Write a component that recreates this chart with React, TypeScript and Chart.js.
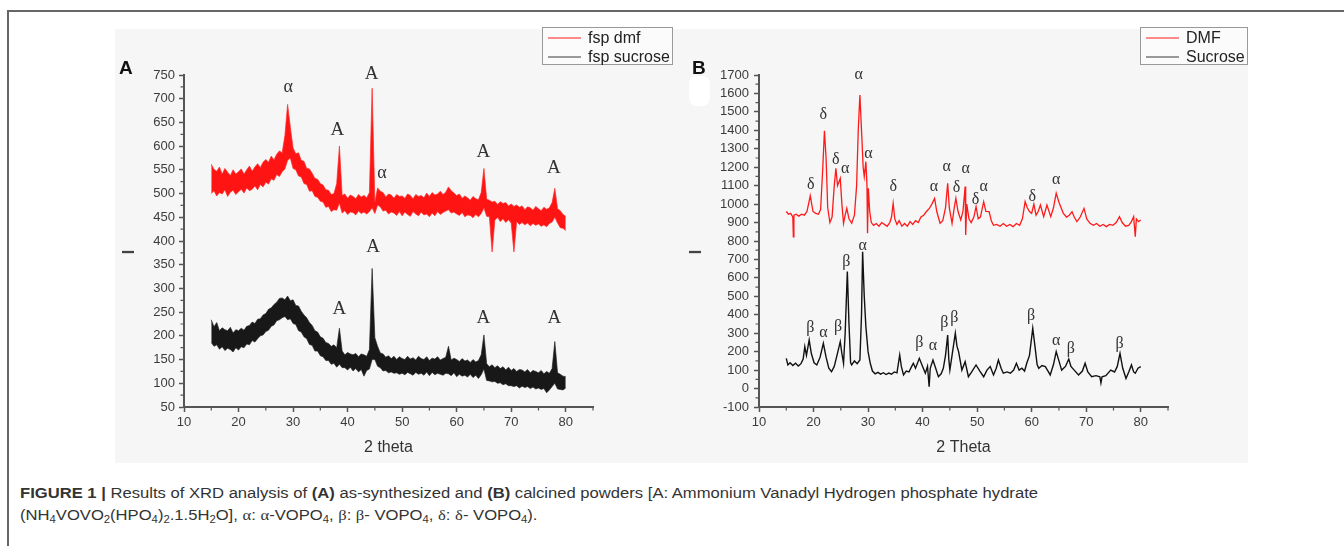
import React, { useEffect, useRef } from "react";
import { Chart, registerables } from "chart.js";

Chart.register(...registerables);

const SANS = "'Liberation Sans', Arial, Helvetica, sans-serif";
const SERIF = "'Liberation Serif', 'Times New Roman', Times, serif";

// ---------------- Panel A (as-synthesized) ----------------
// sampled 2-theta grid: 15 .. 80, step 0.5 ; upper / lower edge of the noisy trace
const A_START = 15;
const A_STEP = 0.5;
const A_DMF_HIGH = [
  562, 551, 547, 556, 541, 553, 545, 538, 550, 541,
  546, 552, 541, 550, 558, 547, 556, 563, 555, 566,
  572, 566, 579, 571, 583, 590, 586, 622, 688, 640,
  596, 584, 586, 570, 568, 553, 552, 543, 532, 530,
  521, 518, 508, 507, 498, 500, 521, 600, 496, 499,
  490, 497, 494, 489, 498, 493, 496, 491, 502, 722,
  482, 512, 505, 502, 493, 499, 497, 490, 498, 494,
  495, 490, 499, 496, 489, 498, 494, 496, 491, 501,
  494, 502, 497, 499, 505, 498, 503, 514, 506, 501,
  496, 499, 490, 495, 491, 486, 494, 489, 487, 502,
  553, 488, 486, 482, 484, 477, 483, 479, 481, 474,
  478, 473, 476, 471, 474, 466, 472, 470, 465, 473,
  468, 464, 471, 467, 470, 481, 511, 468, 464, 456,
  452,
];
const A_DMF_LOW = [
  500, 506, 495, 502, 499, 508, 494, 503, 507, 498,
  504, 509, 501, 512, 506, 509, 516, 508, 519, 514,
  524, 520, 531, 528, 540, 536, 546, 552, 570, 575,
  553, 550, 537, 535, 521, 519, 505, 506, 494, 492,
  484, 482, 471, 473, 462, 466, 465, 480, 459, 464,
  456, 461, 460, 455, 463, 458, 461, 457, 462, 470,
  458, 476, 472, 463, 465, 457, 461, 459, 454, 462,
  453, 461, 456, 452, 462, 457, 453, 461, 455, 457,
  451, 459, 453, 462, 456, 460, 463, 466, 459, 461,
  457, 454, 460, 451, 455, 454, 449, 456, 451, 458,
  470, 452, 451, 377, 444, 450, 441, 447, 439, 445,
  438, 377, 441, 435, 439, 434, 438, 432, 437, 433,
  436, 431, 434, 430, 437, 440, 450, 438, 428, 427,
  422,
];
const A_SUC_HIGH = [
  234, 219, 228, 211, 217, 213, 211, 218, 206, 213,
  211, 216, 212, 220, 222, 229, 226, 235, 236, 244,
  247, 256, 259, 266, 271, 279, 280, 276, 284, 274,
  276, 264, 263, 252, 244, 238, 228, 222, 211, 208,
  198, 195, 186, 184, 178, 181, 175, 216, 168, 160,
  165, 162, 160, 163, 156, 162, 160, 157, 171, 342,
  196, 178, 164, 162, 155, 158, 152, 157, 150, 156,
  152, 150, 157, 151, 154, 149, 157, 152, 150, 156,
  148, 153, 151, 156, 149, 152, 155, 178, 149, 153,
  150, 146, 152, 147, 149, 144, 150, 145, 148, 160,
  202, 141, 135, 139, 133, 137, 131, 135, 128, 134,
  127, 131, 125, 129, 128, 124, 129, 122, 127, 125,
  122, 127, 120, 125, 121, 131, 188, 122, 119, 115,
  114,
];
const A_SUC_LOW = [
  186, 178, 181, 172, 177, 169, 174, 171, 166, 175,
  170, 177, 175, 183, 181, 190, 187, 194, 200, 202,
  209, 212, 220, 223, 232, 234, 238, 241, 234, 236,
  226, 224, 211, 208, 198, 194, 182, 180, 168, 168,
  158, 156, 148, 148, 140, 142, 134, 140, 133, 133,
  128, 134, 126, 131, 124, 129, 115, 127, 130, 150,
  150, 136, 133, 126, 127, 122, 124, 121, 122, 119,
  121, 118, 123, 120, 117, 123, 119, 121, 117, 124,
  116, 123, 118, 121, 119, 117, 121, 120, 116, 122,
  114, 119, 115, 117, 113, 119, 112, 117, 110, 118,
  130, 106, 105, 103, 104, 100, 101, 97, 99, 95,
  95, 93, 95, 90, 94, 91, 93, 89, 92, 88,
  90, 87, 89, 80, 86, 93, 100, 88, 87, 86,
  90,
];
const A_Y_TICKS = [50, 100, 150, 200, 250, 300, 350, 400, 450, 500, 550, 600, 650, 700, 750];
const A_Y_MINOR = [75, 125, 175, 225, 275, 325, 375, 425, 475, 525, 575, 625, 675, 725];
const A_LABELS: [number, number, string][] = [
  [29.1, 724, "α"], [38.1, 634, "A"], [44.4, 753, "A"], [46.3, 543, "α"],
  [64.9, 588, "A"], [77.8, 553, "A"],
  [38.5, 256, "A"], [44.7, 388, "A"], [64.9, 237, "A"], [77.9, 237, "A"],
];

// ---------------- Panel B (calcined) ----------------
const B_DMF: [number, number][] = [
  [15.0, 960], [15.4, 945], [15.8, 950], [16.2, 930], [16.3, 823], [16.4, 940], [16.8, 945],
  [17.3, 935], [17.8, 945], [18.3, 940], [18.8, 960], [19.4, 1045], [19.9, 960], [20.4, 950],
  [20.9, 945], [21.3, 970], [21.7, 1200], [22.0, 1398], [22.3, 1250], [22.6, 980], [23.0, 900],
  [23.4, 930], [23.8, 1100], [24.1, 1194], [24.4, 1100], [24.9, 1140], [25.2, 1000], [25.5, 896],
  [25.8, 940], [26.1, 977], [26.5, 920], [27.0, 896], [27.5, 940], [27.9, 1100], [28.2, 1400],
  [28.5, 1592], [28.8, 1400], [29.1, 1200], [29.3, 1150], [29.6, 1230], [29.8, 1100], [29.9, 842],
  [30.05, 1086], [30.3, 960], [30.6, 900], [31.0, 885], [31.5, 895], [32.0, 880], [32.5, 900],
  [33.0, 890], [33.5, 880], [34.0, 900], [34.3, 930], [34.6, 1004], [34.9, 920], [35.3, 890],
  [35.7, 910], [36.2, 880], [36.7, 895], [37.2, 880], [37.7, 905], [38.2, 890], [38.7, 910],
  [39.2, 900], [39.7, 930], [40.2, 940], [40.7, 960], [41.2, 975], [41.7, 1000], [42.2, 1031],
  [42.6, 960], [43.2, 896], [43.7, 910], [44.2, 980], [44.6, 1113], [44.9, 980], [45.4, 896],
  [45.8, 980], [46.1, 1031], [46.5, 960], [47.0, 914], [47.4, 960], [47.8, 1095], [47.9, 833],
  [48.1, 1000], [48.5, 920], [48.9, 900], [49.4, 930], [49.8, 986], [50.2, 920], [50.6, 930],
  [51.2, 1013], [51.6, 960], [52.2, 959], [52.6, 910], [53.0, 885], [53.6, 890], [54.2, 880],
  [54.8, 895], [55.4, 880], [56.0, 890], [56.6, 878], [57.2, 895], [57.8, 885], [58.3, 920],
  [58.8, 1013], [59.2, 980], [59.6, 960], [60.0, 950], [60.4, 1000], [60.8, 940], [61.2, 960],
  [61.6, 995], [62.2, 932], [62.8, 995], [63.5, 932], [64.0, 980], [64.5, 1059], [65.0, 1010],
  [65.4, 980], [65.8, 950], [66.4, 930], [66.9, 940], [67.4, 959], [67.8, 930], [68.3, 905],
  [68.9, 930], [69.6, 977], [70.1, 920], [70.7, 896], [71.3, 885], [71.9, 895], [72.5, 880],
  [73.1, 890], [73.7, 878], [74.3, 890], [74.9, 885], [75.5, 900], [76.1, 932], [76.6, 900],
  [77.2, 880], [77.8, 885], [78.3, 905], [78.7, 932], [79.0, 823], [79.2, 920], [79.6, 905],
  [80.0, 914],
];
const B_SUC: [number, number][] = [
  [15.0, 164], [15.3, 128], [15.7, 140], [16.2, 125], [16.7, 138], [17.2, 122], [17.7, 135],
  [18.1, 160], [18.4, 227], [18.7, 180], [19.2, 263], [19.6, 190], [20.1, 140], [20.6, 128],
  [21.2, 170], [21.8, 245], [22.3, 170], [22.8, 110], [23.3, 91], [23.8, 120], [24.3, 180],
  [24.9, 254], [25.2, 190], [25.5, 137], [25.8, 300], [26.2, 634], [26.5, 350], [26.8, 140],
  [27.0, 128], [27.5, 150], [28.0, 135], [28.5, 155], [28.8, 400], [29.0, 742], [29.3, 500],
  [29.6, 335], [30.0, 200], [30.4, 137], [30.8, 95], [31.3, 80], [31.8, 88], [32.3, 78],
  [32.8, 86], [33.3, 76], [33.8, 84], [34.3, 78], [34.8, 90], [35.3, 85], [35.8, 182],
  [36.1, 120], [36.5, 74], [37.0, 95], [37.5, 90], [38.0, 120], [38.3, 137], [38.7, 110],
  [39.4, 164], [40.0, 120], [40.5, 83], [40.9, 120], [41.2, 10], [41.4, 110], [41.9, 155],
  [42.4, 110], [42.9, 64], [43.4, 80], [43.8, 110], [44.2, 180], [44.6, 290], [44.8, 160],
  [45.0, 100], [45.4, 180], [46.0, 300], [46.3, 230], [46.6, 200], [46.9, 150], [47.2, 100],
  [47.8, 146], [48.4, 64], [49.0, 90], [49.8, 128], [50.5, 95], [51.2, 64], [51.8, 100],
  [52.4, 119], [53.0, 74], [53.5, 110], [53.9, 155], [54.4, 110], [54.8, 83], [55.5, 90],
  [56.1, 83], [56.7, 100], [57.2, 137], [57.7, 100], [58.2, 110], [58.7, 95], [59.1, 137],
  [59.6, 180], [60.2, 327], [60.6, 230], [61.0, 130], [61.3, 110], [61.9, 125], [62.5, 119],
  [63.0, 95], [63.4, 74], [64.0, 130], [64.5, 200], [65.0, 150], [65.5, 100], [66.2, 120],
  [66.8, 160], [67.2, 120], [67.8, 100], [68.6, 74], [69.3, 95], [69.8, 137], [70.3, 90],
  [71.0, 64], [71.8, 70], [72.5, 64], [72.7, 30], [72.9, 64], [73.6, 70], [74.5, 100],
  [75.2, 90], [75.7, 120], [76.2, 191], [76.7, 110], [77.3, 55], [77.8, 90], [78.3, 128],
  [78.7, 90], [79.0, 83], [79.5, 110], [80.0, 119],
];
const B_Y_TICKS = [-100, 0, 100, 200, 300, 400, 500, 600, 700, 800, 900, 1000, 1100, 1200, 1300, 1400, 1500, 1600, 1700];
const B_Y_MINOR = [-50, 50, 150, 250, 350, 450, 550, 650, 750, 850, 950, 1050, 1150, 1250, 1350, 1450, 1550, 1650];
const B_LABELS: [number, number, string][] = [
  [19.5, 1104, "δ"], [21.8, 1483, "δ"], [24.1, 1239, "δ"], [25.8, 1194, "α"], [28.3, 1700, "α"],
  [30.05, 1275, "α"], [34.6, 1094, "δ"], [42.1, 1094, "α"], [44.4, 1200, "α"], [46.2, 1091, "δ"],
  [47.9, 1189, "α"], [49.7, 1022, "δ"], [51.2, 1094, "α"], [60.1, 1040, "δ"], [64.5, 1131, "α"],
  [19.4, 332, "β"], [21.8, 300, "α"], [24.5, 335, "β"], [26.0, 688, "β"], [29.0, 773, "α"],
  [39.4, 249, "β"], [41.9, 232, "α"], [44.0, 354, "β"], [45.8, 381, "β"], [59.9, 393, "β"],
  [64.5, 259, "α"], [67.2, 218, "β"], [76.1, 245, "β"],
];

// ---------------- shared axis ----------------
const X_TICKS = [10, 20, 30, 40, 50, 60, 70, 80];
const X_MINOR = [15, 25, 35, 45, 55, 65, 75, 85];

const gridOpts = { drawOnChartArea: false, drawTicks: true, tickLength: 5, tickColor: "#555", tickWidth: 1.5 };
const borderOpts = { display: true, color: "#555", width: 2 };
const tickFont = { family: SANS, size: 13 };

function xAxis(title: string) {
  return {
    type: "linear",
    min: 10,
    max: 85,
    afterBuildTicks: (s: any) => { s.ticks = X_TICKS.map((v) => ({ value: v })); },
    afterFit: (s: any) => { s.height = 56; },
    ticks: { color: "#3c3c3c", font: tickFont, padding: 3, maxRotation: 0, autoSkip: false, callback: (v: any) => String(v) },
    grid: gridOpts,
    border: borderOpts,
    title: { display: true, text: title, color: "#333", font: { family: SANS, size: 16 }, padding: { top: 0, bottom: 6 } },
  };
}
function yAxis(min: number, max: number, ticks: number[], width: number, pad: number) {
  return {
    type: "linear",
    min,
    max,
    afterBuildTicks: (s: any) => { s.ticks = ticks.map((v) => ({ value: v })); },
    afterFit: (s: any) => { s.width = width; },
    ticks: { color: "#3c3c3c", font: tickFont, padding: pad, autoSkip: false, callback: (v: any) => String(v) },
    grid: gridOpts,
    border: borderOpts,
  };
}

const decor = {
  id: "decor",
  afterDraw(chart: any, _args: any, opts: any) {
    const { ctx } = chart;
    const xs = chart.scales.x;
    const ys = chart.scales.y;
    ctx.save();
    ctx.strokeStyle = "#555";
    ctx.lineWidth = 1.2;
    ctx.beginPath();
    for (const v of X_MINOR) {
      const px = xs.getPixelForValue(v);
      ctx.moveTo(px, xs.top);
      ctx.lineTo(px, xs.top + 3.5);
    }
    for (const v of opts.yMinor as number[]) {
      const py = ys.getPixelForValue(v);
      ctx.moveTo(ys.right - 3.5, py);
      ctx.lineTo(ys.right, py);
    }
    ctx.stroke();
    // peak labels
    ctx.fillStyle = "#333";
    ctx.textAlign = "center";
    ctx.textBaseline = "middle";
    for (const [x, y, t] of opts.labels as [number, number, string][]) {
      ctx.font = t === "A" ? `${opts.sizeA}px ${SERIF}` : `${opts.sizeG}px ${SERIF}`;
      ctx.fillText(t, xs.getPixelForValue(x), ys.getPixelForValue(y));
    }
    // intensity axis mark
    ctx.translate(opts.iX, opts.iY);
    ctx.rotate(-Math.PI / 2);
    ctx.font = `bold 16px ${SANS}`;
    ctx.fillStyle = "#444";
    ctx.fillText("I", 0, 0);
    ctx.restore();
  },
};

function band(lowVals: number[], highVals: number[], color: string, fill: string) {
  const pts = (arr: number[]) => arr.map((y, i) => ({ x: A_START + i * A_STEP, y }));
  return [
    { data: pts(lowVals), borderColor: color, borderWidth: 1, pointRadius: 0, fill: false, tension: 0 },
    { data: pts(highVals), borderColor: color, borderWidth: 1, pointRadius: 0, fill: "-1", backgroundColor: fill, tension: 0 },
  ];
}

function configA(): any {
  return {
    type: "line",
    data: {
      datasets: [
        ...band(A_DMF_LOW, A_DMF_HIGH, "rgba(255,40,40,0.7)", "rgba(255,0,0,0.92)"),
        ...band(A_SUC_LOW, A_SUC_HIGH, "rgba(30,30,30,0.65)", "rgba(0,0,0,0.9)"),
      ],
    },
    options: {
      animation: false,
      responsive: false,
      layout: { padding: { top: 46, right: 87, left: 0, bottom: 0 } },
      scales: { x: xAxis("2 theta"), y: yAxis(50, 750, A_Y_TICKS, 69, 4) },
      plugins: {
        legend: { display: false },
        tooltip: { enabled: false },
        decor: { yMinor: A_Y_MINOR, labels: A_LABELS, sizeA: 19, sizeG: 18, iX: 14.5, iY: 223 },
      },
    },
    plugins: [decor],
  };
}

function configB(): any {
  const pts = (arr: [number, number][]) => arr.map(([x, y]) => ({ x, y }));
  return {
    type: "line",
    data: {
      datasets: [
        { data: pts(B_DMF), borderColor: "#ff1a1a", borderWidth: 1.3, pointRadius: 0, fill: false, tension: 0 },
        { data: pts(B_SUC), borderColor: "#111", borderWidth: 1.4, pointRadius: 0, fill: false, tension: 0 },
      ],
    },
    options: {
      animation: false,
      responsive: false,
      layout: { padding: { top: 46, right: 80, left: 0, bottom: 0 } },
      scales: { x: xAxis("2 Theta"), y: yAxis(-100, 1700, B_Y_TICKS, 79, 5) },
      plugins: {
        legend: { display: false },
        tooltip: { enabled: false },
        decor: { yMinor: B_Y_MINOR, labels: B_LABELS, sizeA: 16, sizeG: 16, iX: 17, iY: 223 },
      },
    },
    plugins: [decor],
  };
}

function Legend({ left, width, items }: { left: number; width: number; items: [string, string][] }) {
  return (
    <div style={{ position: "absolute", left, top: 27, width, height: 38, border: "1px solid #999", background: "#fbfbfb", boxSizing: "border-box" }}>
      {items.map(([label, color], i) => (
        <div key={label} style={{ position: "absolute", left: 5, top: 1 + i * 19, height: 18, display: "flex", alignItems: "center", whiteSpace: "nowrap" }}>
          <div style={{ width: 33, height: 2, background: color, marginRight: 7 }} />
          <span style={{ font: `16px ${SANS}`, color: "#222" }}>{label}</span>
        </div>
      ))}
    </div>
  );
}

const Sub = ({ children }: { children: React.ReactNode }) => (
  <sub style={{ fontSize: "0.68em", verticalAlign: "-0.28em", lineHeight: 0 }}>{children}</sub>
);
const G = ({ children }: { children: React.ReactNode }) => <span style={{ fontFamily: SERIF }}>{children}</span>;

export default function App() {
  const refA = useRef<HTMLCanvasElement>(null);
  const refB = useRef<HTMLCanvasElement>(null);
  const cap1 = useRef<HTMLDivElement>(null);
  const cap2 = useRef<HTMLDivElement>(null);

  useEffect(() => {
    const a = new Chart(refA.current as HTMLCanvasElement, configA());
    const b = new Chart(refB.current as HTMLCanvasElement, configB());
    if (cap1.current && cap2.current) {
      const w = cap1.current.getBoundingClientRect().width;
      const k = 1018 / w;
      cap1.current.style.transform = `scaleX(${k})`;
      cap2.current.style.transform = `scaleX(${k})`;
    }
    return () => {
      a.destroy();
      b.destroy();
    };
  }, []);

  const capStyle: React.CSSProperties = {
    position: "absolute", left: 20, whiteSpace: "nowrap", font: `15.5px ${SANS}`, color: "#333",
    transformOrigin: "0 0", lineHeight: "22px",
  };

  return (
    <div style={{ position: "fixed", left: 0, top: 0, width: 1344, height: 546, background: "#fff", overflow: "hidden" }}>
      <div style={{ position: "absolute", left: 7, top: 10, width: 1400, height: 600, borderLeft: "2px solid #666", borderTop: "2px solid #666" }} />
      <div style={{ position: "absolute", left: 115, top: 29, width: 1133, height: 434, background: "#f6f6f6" }} />
      <canvas ref={refA} width={565} height={434} style={{ position: "absolute", left: 115, top: 29, width: 565, height: 434 }} />
      <canvas ref={refB} width={568} height={434} style={{ position: "absolute", left: 680, top: 29, width: 568, height: 434 }} />
      <div style={{ position: "absolute", left: 689, top: 76, width: 21, height: 30, background: "#fff", borderRadius: 8 }} />
      <div style={{ position: "absolute", left: 119, top: 57, font: `bold 19px ${SANS}`, color: "#111" }}>A</div>
      <div style={{ position: "absolute", left: 692, top: 57, font: `bold 19px ${SANS}`, color: "#111" }}>B</div>
      <Legend left={542} width={131} items={[["fsp dmf", "#ff8a8a"], ["fsp sucrose", "#999"]]} />
      <Legend left={1140} width={108} items={[["DMF", "#ff8a8a"], ["Sucrose", "#999"]]} />
      <div ref={cap1} style={{ ...capStyle, top: 482 }}>
        <b>FIGURE 1 |</b> Results of XRD analysis of <b>(A)</b> as-synthesized and <b>(B)</b> calcined powders [A: Ammonium Vanadyl Hydrogen phosphate hydrate
      </div>
      <div ref={cap2} style={{ ...capStyle, top: 504 }}>
        (NH<Sub>4</Sub>VOVO<Sub>2</Sub>(HPO<Sub>4</Sub>)<Sub>2</Sub>.1.5H<Sub>2</Sub>O], <G>α</G>: <G>α</G>-VOPO<Sub>4</Sub>, <G>β</G>: <G>β</G>- VOPO<Sub>4</Sub>, <G>δ</G>: <G>δ</G>- VOPO<Sub>4</Sub>).
      </div>
    </div>
  );
}
